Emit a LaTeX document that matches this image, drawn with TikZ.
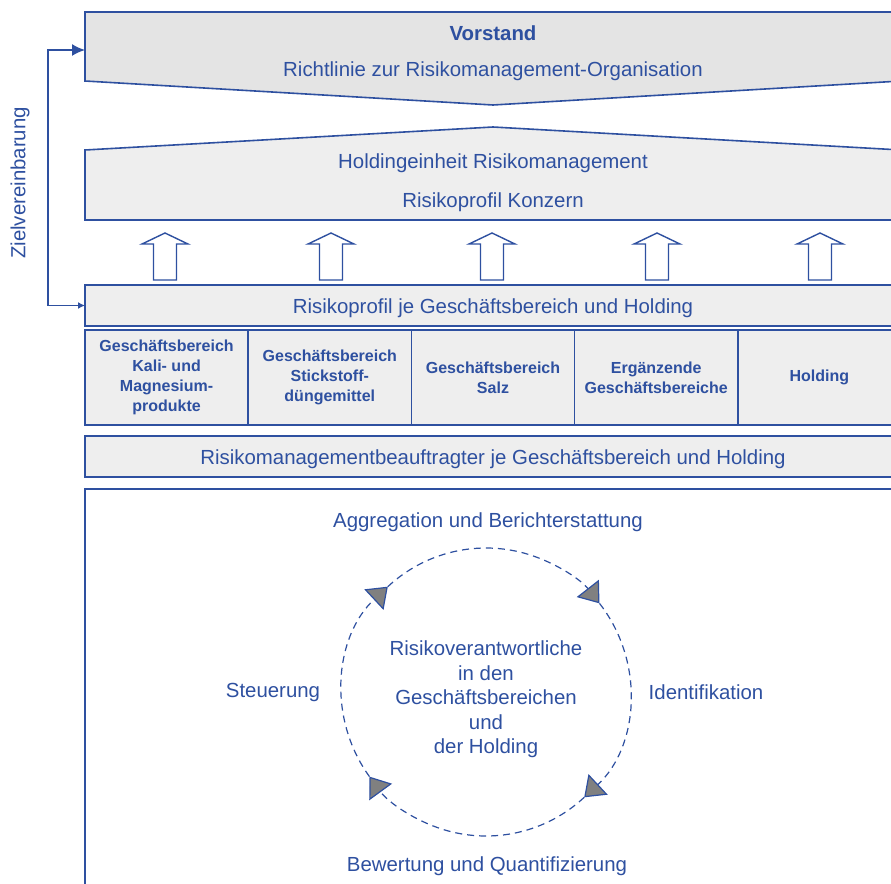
\documentclass[tikz,border=0pt]{standalone}
\usepackage{fontspec}
\setmainfont{Liberation Sans}
\usetikzlibrary{arrows.meta,positioning}
\definecolor{kblue}{RGB}{46,80,160}
\definecolor{boxgray}{RGB}{238,238,238}
\definecolor{topgray}{RGB}{228,228,228}
\definecolor{tipgray}{RGB}{128,128,128}

\begin{document}
\begin{tikzpicture}[x=1pt, y=1pt,
    every node/.style={text=kblue, font=\fontsize{20.4}{24.5}\selectfont},
    frame/.style={draw=kblue, line width=1.6pt},
    bar/.style={frame, fill=boxgray, minimum width=816pt, minimum height=41pt, inner sep=0pt, outer sep=0pt, anchor=north west, text height=19pt, text depth=4pt},
    gbbox/.style={frame, fill=boxgray, minimum width=163.2pt, minimum height=95pt, inner sep=0pt, outer sep=0pt, anchor=north west, align=center, font=\bfseries\fontsize{16}{20}\selectfont},
    uparrow/.style={draw=kblue, line width=1.4pt, fill=white},
    cyc/.style={draw=kblue, line width=1.2pt, dash pattern=on 7pt off 5pt, -{Triangle[length=19pt, width=28pt, fill=tipgray]}}]
    \useasboundingbox (0,0) rectangle (891,-883);
    \clip (0,0) rectangle (891,-883);

    % Vorstand and holding unit
    \draw[frame, fill=topgray] (85,-12) -- (901,-12) -- (901,-81) -- (493,-105) -- (85,-81) -- cycle;
    \coordinate (vl) at (85,-50);
    \node (vorstand) at (493,-33) {\bfseries Vorstand};
    \node (richtlinie) at (493,-71) {Richtlinie zur Risikomanagement-Organisation};

    \draw[frame, fill=boxgray] (85,-220) -- (85,-150) -- (493,-127) -- (901,-150) -- (901,-220) -- cycle;
    \node (holding) at (493,-163) {Holdingeinheit Risikomanagement};
    \node (konzern) at (493,-202) {Risikoprofil Konzern};

    % Block arrows up
    \foreach \x in {165,331,492,657,820}
        \draw[uparrow] (\x-11.5,-280) -- (\x-11.5,-244) -- (\x-23,-244) -- (\x,-233)
            -- (\x+23,-244) -- (\x+11.5,-244) -- (\x+11.5,-280) -- cycle;

    % Risk profile per business unit
    \node (profil) [bar] at (85,-285) {Risikoprofil je Geschäftsbereich und Holding};

    \node (gb1) [gbbox] at (85,-330) {Geschäftsbereich\\Kali- und\\Magnesium-\\produkte};
    \node (gb2) [gbbox, right=0pt of gb1] {Geschäftsbereich\\Stickstoff-\\düngemittel};
    \node (gb3) [gbbox, right=0pt of gb2] {Geschäftsbereich\\Salz};
    \node (gb4) [gbbox, right=0pt of gb3] {Ergänzende\\Geschäftsbereiche};
    \node (gb5) [gbbox, right=0pt of gb4] {Holding};

    \node (beauftragte) [bar] at (85,-436) {Risikomanagementbeauftragter je Geschäftsbereich und Holding};

    % Zielvereinbarung
    \draw[kblue, line width=1.6pt, {Latex[length=7pt,width=7pt]}-{Latex[length=13pt,width=12pt]}]
        (profil.west) -- ++(-37,0) |- (vl);
    \node (ziel) [rotate=90] at (20,-183) {Zielvereinbarung};

    % Risk cycle
    \draw[frame] (85,-905) -- (85,-489) -- (905,-489);
    \coordinate (c) at (486,-692);
    \foreach \a/\b in {216/133, 133/38, 38/-47, -47/-144}
        \draw[cyc] (c) ++(\a:144) arc[start angle=\a, end angle=\b, radius=144];
    \node (zentrum) [align=center] at (486,-699.5) {Risikoverantwortliche\\in den\\Geschäftsbereichen\\und\\der Holding};
    \node (aggregation) at (488,-522) {Aggregation und Berichterstattung};
    \node (identifikation) at (706,-692) {Identifikation};
    \node (bewertung) at (487,-866) {Bewertung und Quantifizierung};
    \node (steuerung) at (273,-692) {Steuerung};
\end{tikzpicture}
\end{document}
